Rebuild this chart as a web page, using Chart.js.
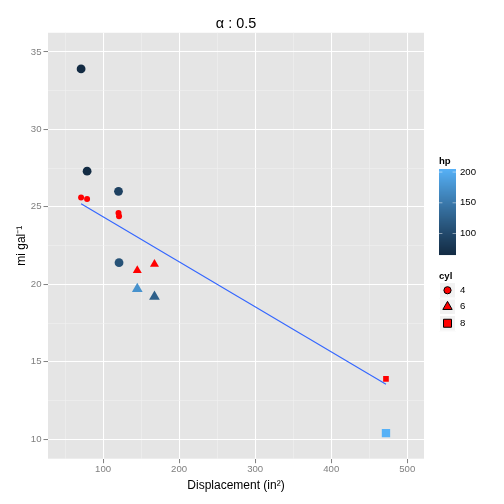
<!DOCTYPE html>
<html>
<head>
<meta charset="utf-8">
<script src="https://cdn.jsdelivr.net/npm/chart.js@4.4.1/dist/chart.umd.min.js"></script>
<style>
  html, body { margin: 0; padding: 0; background: #ffffff; }
  canvas { display: block; }
</style>
</head>
<body>
<canvas id="c" width="504" height="504"></canvas>
<script>
// ---- data ----
const displacement = [71.1, 79.0, 120.3, 121.0, 145.0, 167.6, 472.0];
const mpg          = [33.9, 27.3, 26.0, 21.4, 19.7, 19.2, 10.4];
const hp           = [65, 66, 91, 109, 175, 123, 205];
const cyl          = [4, 4, 4, 4, 6, 6, 8];
const fittedMpg    = [25.6, 25.5, 24.6, 24.4, 20.9, 21.3, 13.9];
const smoothX      = [71.1, 472.0];
const smoothY      = [25.2, 13.55];
const xMajorTicks  = [100, 200, 300, 400, 500];
const xMinorTicks  = [50, 150, 250, 350, 450];
const yMajorTicks  = [10, 15, 20, 25, 30, 35];
const yMinorTicks  = [12.5, 17.5, 22.5, 27.5, 32.5];
const hpLegendTicks = [100, 150, 200];
const cylLevels    = [4, 6, 8];
const titleText    = 'α : 0.5';

// ---- colour gradient (ggplot default, Lab interpolation) ----
const LOW = '#132B43', HIGH = '#56B1F7';
function hexToRgb(h){ return [1,3,5].map(i=>parseInt(h.substr(i,2),16)); }
function srgbToLin(c){ c/=255; return c<=0.04045? c/12.92 : Math.pow((c+0.055)/1.055,2.4); }
function linToSrgb(c){ c = c<=0.0031308? 12.92*c : 1.055*Math.pow(c,1/2.4)-0.055; return Math.max(0,Math.min(255,Math.round(c*255))); }
const WX=0.95047, WY=1.0, WZ=1.08883;
function rgbToLab(rgb){
  const [r,g,b]=rgb.map(srgbToLin);
  const X=r*0.4124564+g*0.3575761+b*0.1804375;
  const Y=r*0.2126729+g*0.7151522+b*0.0721750;
  const Z=r*0.0193339+g*0.1191920+b*0.9503041;
  const f=t=>t>216/24389? Math.cbrt(t) : (24389/27*t+16)/116;
  const fx=f(X/WX), fy=f(Y/WY), fz=f(Z/WZ);
  return [116*fy-16, 500*(fx-fy), 200*(fy-fz)];
}
function labToRgb(lab){
  const [L,a,b]=lab;
  const fy=(L+16)/116, fx=fy+a/500, fz=fy-b/200;
  const finv=t=>{ const t3=t*t*t; return t3>216/24389? t3 : (116*t-16)/(24389/27); };
  const X=finv(fx)*WX, Y=finv(fy)*WY, Z=finv(fz)*WZ;
  const r= 3.2404542*X-1.5371385*Y-0.4985314*Z;
  const g=-0.9692660*X+1.8760108*Y+0.0415560*Z;
  const bb=0.0556434*X-0.2040259*Y+1.0572252*Z;
  return [linToSrgb(r),linToSrgb(g),linToSrgb(bb)];
}
const labLow=rgbToLab(hexToRgb(LOW)), labHigh=rgbToLab(hexToRgb(HIGH));
const hpMin=Math.min(...hp), hpMax=Math.max(...hp);
function hpColor(v){
  const t=(v-hpMin)/(hpMax-hpMin);
  const lab=labLow.map((l,i)=>l+(labHigh[i]-l)*t);
  const c=labToRgb(lab);
  return 'rgb('+c[0]+','+c[1]+','+c[2]+')';
}

const shapeOf = {4:'circle', 6:'triangle', 8:'rect'};
const bigRadius = {4:4.4, 6:6.2, 8:5.9};
const redRadius = {4:3.0, 6:5.2, 8:4.0};

const bigPoints = displacement.map((x,i)=>({x:x, y:mpg[i]}));
const redPoints = displacement.map((x,i)=>({x:x, y:fittedMpg[i]}));
const smoothPoints = smoothX.map((x,i)=>({x:x, y:smoothY[i]}));

const FONT = "'Liberation Sans', Arial, Helvetica, sans-serif";

// ---- plugins ----
const panelBg = {
  id:'panelBg',
  beforeDraw(chart){
    const {ctx, chartArea:a} = chart;
    ctx.save();
    ctx.fillStyle='#ffffff';
    ctx.fillRect(0,0,chart.width,chart.height);
    ctx.fillStyle='#E5E5E5';
    ctx.fillRect(a.left,a.top,a.right-a.left,a.bottom-a.top);
    ctx.restore();
  }
};

const legendPlugin = {
  id:'ggLegend',
  afterDraw(chart){
    const ctx=chart.ctx;
    ctx.save();
    const lx=439;
    ctx.fillStyle='#000000';
    ctx.font='bold 9.6px '+FONT;
    ctx.textAlign='left'; ctx.textBaseline='middle';
    ctx.fillText('hp', lx, 161.5);
    const barTop=169, barBot=255, barW=17;
    const n=barBot-barTop;
    for(let i=0;i<n;i++){
      const v=hpMax-(hpMax-hpMin)*(i+0.5)/n;
      ctx.fillStyle=hpColor(v);
      ctx.fillRect(lx, barTop+i, barW, 1.05);
    }
    ctx.font='9.6px '+FONT;
    hpLegendTicks.forEach(t=>{
      const y=barBot-(t-hpMin)/(hpMax-hpMin)*n;
      ctx.strokeStyle='rgba(255,255,255,0.8)';
      ctx.lineWidth=0.6;
      ctx.beginPath();
      ctx.moveTo(lx,y); ctx.lineTo(lx+3.4,y);
      ctx.moveTo(lx+barW-3.4,y); ctx.lineTo(lx+barW,y);
      ctx.stroke();
      ctx.fillStyle='#000000';
      ctx.fillText(String(t), lx+barW+4, y);
    });
    ctx.font='bold 9.6px '+FONT;
    ctx.fillStyle='#000000';
    ctx.fillText('cyl', lx, 276);
    const keyTop=282, keyH=16.5, keyW=17;
    cylLevels.forEach((c,i)=>{
      const y0=keyTop+i*keyH;
      ctx.fillStyle='#F2F2F2';
      ctx.fillRect(lx,y0,keyW,keyH);
      ctx.strokeStyle='#ffffff'; ctx.lineWidth=1;
      ctx.strokeRect(lx+0.5,y0+0.5,keyW-1,keyH-1);
      const cx=lx+keyW/2, cy=y0+keyH/2;
      ctx.fillStyle='#FF0000'; ctx.strokeStyle='#000000'; ctx.lineWidth=1;
      ctx.beginPath();
      if(c===4){ ctx.arc(cx,cy,3.6,0,Math.PI*2); }
      else if(c===6){ const r=5.4; ctx.moveTo(cx,cy-r); ctx.lineTo(cx+r*0.866,cy+r*0.5); ctx.lineTo(cx-r*0.866,cy+r*0.5); ctx.closePath(); }
      else { ctx.rect(cx-4,cy-4,8,8); }
      ctx.fill(); ctx.stroke();
      ctx.fillStyle='#000000';
      ctx.font='9.6px '+FONT;
      ctx.fillText(String(c), lx+keyW+4, cy);
    });
    ctx.restore();
  }
};

function isIn(arr,v){ return arr.some(a=>Math.abs(a-v)<1e-9); }

new Chart(document.getElementById('c'), {
  type:'scatter',
  data:{
    datasets:[
      {
        label:'smooth',
        type:'line',
        data:smoothPoints,
        borderColor:'#3366FF',
        borderWidth:1.1,
        pointRadius:0,
        fill:false,
        tension:0,
        order:0
      },
      {
        label:'fitted',
        data:redPoints,
        backgroundColor:'#FF0000',
        borderWidth:0,
        pointStyle:cyl.map(c=>shapeOf[c]),
        pointRadius:cyl.map(c=>redRadius[c]),
        pointHoverRadius:cyl.map(c=>redRadius[c]),
        order:1
      },
      {
        label:'mpg',
        data:bigPoints,
        backgroundColor:hp.map(hpColor),
        borderWidth:0,
        pointStyle:cyl.map(c=>shapeOf[c]),
        pointRadius:cyl.map(c=>bigRadius[c]),
        pointHoverRadius:cyl.map(c=>bigRadius[c]),
        order:2
      }
    ]
  },
  options:{
    responsive:false,
    animation:false,
    events:[],
    layout:{ padding:{ left:0, right:80, top:0, bottom:0 } },
    plugins:{
      legend:{ display:false },
      tooltip:{ enabled:false },
      title:{
        display:true,
        text:titleText,
        fullSize:false,
        color:'#000000',
        font:{ family:FONT, size:14.4, weight:'normal', lineHeight:1.2 },
        padding:{ top:15.5, bottom:0 }
      }
    },
    scales:{
      x:{
        type:'linear',
        min:27.6, max:522,
        afterBuildTicks(scale){ scale.ticks = xMinorTicks.concat(xMajorTicks).sort((a,b)=>a-b).map(v=>({value:v})); },
        afterFit(scale){ scale.height = 45.3; },
        ticks:{
          autoSkip:false, maxRotation:0,
          color:'#7F7F7F',
          font:{ family:FONT, size:9.6 },
          padding:0,
          callback:(v)=> isIn(xMajorTicks,v) ? String(v) : ''
        },
        grid:{
          color:(c)=> c.tick && isIn(xMajorTicks,c.tick.value) ? '#FFFFFF' : '#F2F2F2',
          lineWidth:(c)=> c.tick && isIn(xMajorTicks,c.tick.value) ? 1.07 : 0.55,
          tickColor:(c)=> c.tick && isIn(xMajorTicks,c.tick.value) ? '#7F7F7F' : 'rgba(0,0,0,0)',
          tickWidth:1,
          tickLength:4.5,
          drawTicks:true
        },
        border:{ display:false },
        title:{
          display:true,
          text:'Displacement (in²)',
          color:'#000000',
          font:{ family:FONT, size:12, lineHeight:1.2 },
          padding:{ top:0, bottom:11 }
        }
      },
      y:{
        type:'linear',
        min:8.75, max:36.23,
        afterBuildTicks(scale){ scale.ticks = yMinorTicks.concat(yMajorTicks).sort((a,b)=>a-b).map(v=>({value:v})); },
        afterFit(scale){ scale.width = 48; },
        ticks:{
          autoSkip:false,
          color:'#7F7F7F',
          font:{ family:FONT, size:9.6 },
          padding:2,
          callback:(v)=> isIn(yMajorTicks,v) ? String(v) : ''
        },
        grid:{
          color:(c)=> c.tick && isIn(yMajorTicks,c.tick.value) ? '#FFFFFF' : '#F2F2F2',
          lineWidth:(c)=> c.tick && isIn(yMajorTicks,c.tick.value) ? 1.07 : 0.55,
          tickColor:(c)=> c.tick && isIn(yMajorTicks,c.tick.value) ? '#7F7F7F' : 'rgba(0,0,0,0)',
          tickWidth:1,
          tickLength:4.5,
          drawTicks:true
        },
        border:{ display:false },
        title:{
          display:true,
          text:'mi gal⁻¹',
          color:'#000000',
          font:{ family:FONT, size:12, lineHeight:1.2 },
          padding:{ top:14.5, bottom:0 }
        }
      }
    }
  },
  plugins:[panelBg, legendPlugin]
});
</script>
</body>
</html>
